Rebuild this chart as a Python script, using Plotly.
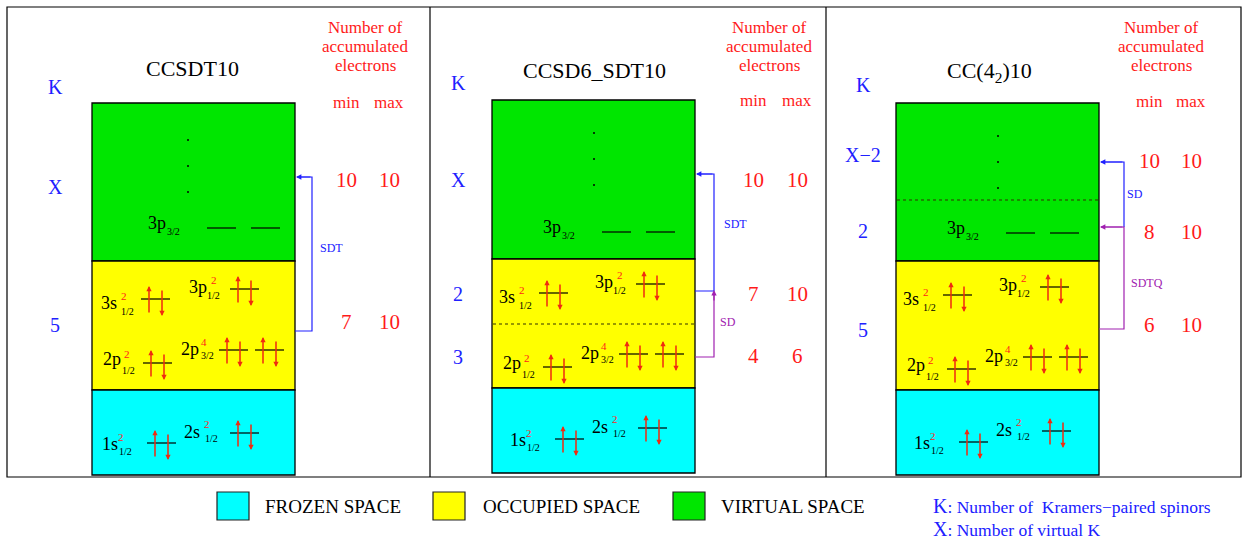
import plotly.graph_objects as go

# ---------------- data ----------------
panel_titles = ["CCSDT10", "CCSD6_SDT10", "CC(4<sub>2</sub>)10"]
k_labels = [["K", "X", "5"], ["K", "X", "2", "3"], ["K", "X\u22122", "2", "5"]]
min_electrons = [[10, 7], [10, 7, 4], [10, 8, 6]]
max_electrons = [[10, 10], [10, 10, 6], [10, 10, 10]]
bracket_labels = [["SDT"], ["SDT", "SD"], ["SD", "SDTQ"]]
header_lines = ["Number of", "accumulated", "electrons"]
minmax_labels = ["min", "max"]
orb_names = ["3p", "3s", "3p", "2p", "2p", "1s", "2s"]
orb_sub = ["3/2", "1/2", "1/2", "1/2", "3/2", "1/2", "1/2"]
orb_occ = ["", "2", "2", "2", "4", "2", "2"]
orb_levels = [2, 1, 1, 1, 2, 1, 1]
orb_filled = [False, True, True, True, True, True, True]
legend_names = ["FROZEN SPACE", "OCCUPIED SPACE", "VIRTUAL SPACE"]
legend_colors = ["#00ffff", "#ffff00", "#00e600"]
notes = [("K", "Number of  Kramers\u2212paired spinors"), ("X", "Number of virtual K")]

# ---------------- layout constants ----------------
W, H = 1242, 541
SERIF = "Liberation Serif, Times New Roman, serif"
BLUE = "#2020ff"
PURPLE = "#a020b0"
RED = "#ff1a1a"
ARROW = "#f02a10"

panel_edges = [7, 430, 826, 1241]
frame_top, frame_bot = 7, 477
box_left = [92, 492, 896]
box_w = 203
box_y = [[103, 261, 390, 475], [100, 259, 388, 473], [103, 261, 390, 475]]
dashed_y = [None, 324, 200]
title_xy = [(192, 68), (594, 70), (989, 72)]
k_x = [55, 458, 863]
k_y = [[87, 187, 325], [83, 180, 294, 357], [85, 155, 231, 330]]
head_x = [365, 769, 1161]
head_y = [27, 46, 65]
mm_y = [102, 100, 101]
min_x = [346, 753, 1149]
max_x = [389, 797, 1191]
val_y = [[180, 322], [180, 294, 356], [161, 232, 325]]
orb_y = [[228, 299, 289, 363, 350, 443, 433],
         [232, 293, 284, 367, 354, 439, 428],
         [233, 295, 287, 369, 357, 442, 431]]
orb_x = [[115, 49, 138, 51, 127, 55, 138],
         [110, 47, 144, 51, 127, 63, 146],
         [110, 47, 144, 51, 127, 63, 146]]
level_gap = [44, 0, 0, 0, 36, 0, 0]
LINE_LEN = 29
# label offsets relative to (line start, line y): main, sup, sub
main_off = [(-50, -5), (-32, 4), (-32, -2), (-31, -4), (-29, -1), (-37, 1), (-38, -1)]
sup_off = [(0, 0), (-17, -3), (-16, -9), (-16, -9), (-15, -8), (-26, -6), (-23, -9)]
sub_off = [(-34, 3), (-14, 12), (-17, 6), (-15, 7), (-12, 5), (-22, 8), (-19, 5)]
dots_rel = [[37, 63, 89], [33, 59, 85], [33, 59, 85]]
dot_x = [96, 102, 102]
# brackets: (color, points, arrow head, arrow tail, label pos)
brackets = [
    [(BLUE, [(295, 331), (312, 331), (312, 177), (297, 177)], (296, 177), (312, 177), (331, 248))],
    [(BLUE, [(695, 291), (714, 291), (714, 174), (697, 174)], (696, 174), (714, 174), (735, 224)),
     (PURPLE, [(695, 357), (714, 357), (714, 292)], (714, 290), (714, 302), (728, 322))],
    [(BLUE, [(1124, 227), (1124, 162), (1101, 162)], (1100, 162), (1124, 162), (1135, 194)),
     (PURPLE, [(1099, 329), (1124, 329), (1124, 227), (1101, 227)], (1100, 227), (1124, 227), (1147, 283))],
]
leg_box_x = [217, 433, 673]
leg_text_x = [263, 481, 719]
leg_y0, leg_y1 = 492, 520
note_x = 931
note_y = [506, 529]

shapes = []
ann = []


def text(x, y, s, size, color="black", xanchor="center"):
    ann.append(dict(x=x, y=y, text=s, showarrow=False, xanchor=xanchor, yanchor="middle",
                    font=dict(family=SERIF, size=size, color=color)))


def arrow(x, y, ax, ay, color, size=0.7, width=1.5):
    ann.append(dict(x=x, y=y, ax=ax, ay=ay, axref="x", ayref="y", xref="x", yref="y",
                    text="", showarrow=True, arrowhead=2, arrowsize=size, arrowwidth=width,
                    arrowcolor=color, standoff=0, startstandoff=0))


def line(x0, y0, x1, y1, color="black", width=1.2, dash="solid"):
    shapes.append(dict(type="line", x0=x0, y0=y0, x1=x1, y1=y1,
                       line=dict(color=color, width=width, dash=dash)))


# frame
shapes.append(dict(type="rect", x0=panel_edges[0], x1=panel_edges[-1], y0=frame_top, y1=frame_bot,
                   line=dict(color="black", width=1.2)))
for xe in panel_edges[1:-1]:
    line(xe, frame_top, xe, frame_bot)

for p in range(3):
    L = box_left[p]
    R = L + box_w
    top, gy, yc, bot = box_y[p]
    for (y0, y1, c) in [(top, gy, legend_colors[2]), (gy, yc, legend_colors[1]), (yc, bot, legend_colors[0])]:
        shapes.append(dict(type="rect", x0=L, x1=R, y0=y0, y1=y1, fillcolor=c,
                           line=dict(color="black", width=1.3), layer="below"))
    if dashed_y[p] is not None:
        line(L + 1, dashed_y[p], R - 1, dashed_y[p], color="#333300", width=1.2, dash="dot")
    # dots
    for dy in dots_rel[p]:
        shapes.append(dict(type="circle", x0=L + dot_x[p] - 1, x1=L + dot_x[p] + 1,
                           y0=top + dy - 1, y1=top + dy + 1, fillcolor="black", line=dict(width=0)))
    # title
    text(title_xy[p][0], title_xy[p][1], panel_titles[p], 22)
    # K labels
    for i, s in enumerate(k_labels[p]):
        text(k_x[p], k_y[p][i], s, 20, BLUE)
    # header
    for i, s in enumerate(header_lines):
        text(head_x[p], head_y[i], s, 17, RED)
    text(min_x[p], mm_y[p], minmax_labels[0], 17, RED)
    text(max_x[p], mm_y[p], minmax_labels[1], 17, RED)
    for i in range(len(min_electrons[p])):
        text(min_x[p], val_y[p][i], str(min_electrons[p][i]), 21, RED)
        text(max_x[p], val_y[p][i], str(max_electrons[p][i]), 21, RED)
    # orbitals
    for o in range(len(orb_names)):
        x0 = L + orb_x[p][o]
        y = orb_y[p][o]
        text(x0 + main_off[o][0], y + main_off[o][1], orb_names[o], 18)
        if orb_occ[o]:
            text(x0 + sup_off[o][0], y + sup_off[o][1], orb_occ[o], 11, RED)
        text(x0 + sub_off[o][0], y + sub_off[o][1], orb_sub[o], 10)
        for lv in range(orb_levels[o]):
            lx = x0 + lv * level_gap[o]
            line(lx, y, lx + LINE_LEN, y, width=1.2)
            if orb_filled[o]:
                arrow(lx + 8, y - 13, lx + 8, y + 15, ARROW)
                arrow(lx + 21, y + 17, lx + 21, y - 10, ARROW)
    # brackets
    for bi, (col, pts, head, tail, lab) in enumerate(brackets[p]):
        path = "M " + " L ".join(f"{a},{b}" for a, b in pts)
        shapes.append(dict(type="path", path=path, line=dict(color=col, width=1.2)))
        arrow(head[0], head[1], tail[0], tail[1], col, size=0.9, width=1.2)
        text(lab[0], lab[1], bracket_labels[p][bi], 12, col)

# legend
for i in range(3):
    shapes.append(dict(type="rect", x0=leg_box_x[i], x1=leg_box_x[i] + 32, y0=leg_y0, y1=leg_y1,
                       fillcolor=legend_colors[i], line=dict(color="#222", width=1.2)))
    text(leg_text_x[i], (leg_y0 + leg_y1) / 2, legend_names[i], 19, xanchor="left")
for i, (k, s) in enumerate(notes):
    text(note_x, note_y[i], f"<span style='font-size:20px'>{k}</span>: {s}", 17.5, BLUE, xanchor="left")

fig = go.Figure()
fig.add_trace(go.Scatter(x=[0, W], y=[0, H], mode="markers", marker=dict(opacity=0), hoverinfo="skip",
                         showlegend=False))
fig.update_layout(width=W, height=H, margin=dict(l=0, r=0, t=0, b=0),
                  paper_bgcolor="white", plot_bgcolor="white",
                  xaxis=dict(range=[0, W], visible=False, fixedrange=True),
                  yaxis=dict(range=[H, 0], visible=False, fixedrange=True),
                  shapes=shapes, annotations=ann, showlegend=False)
fig.write_html("out.html", config={"displayModeBar": False},
               post_script="document.body.style.margin='0';document.body.style.overflow='hidden';")
